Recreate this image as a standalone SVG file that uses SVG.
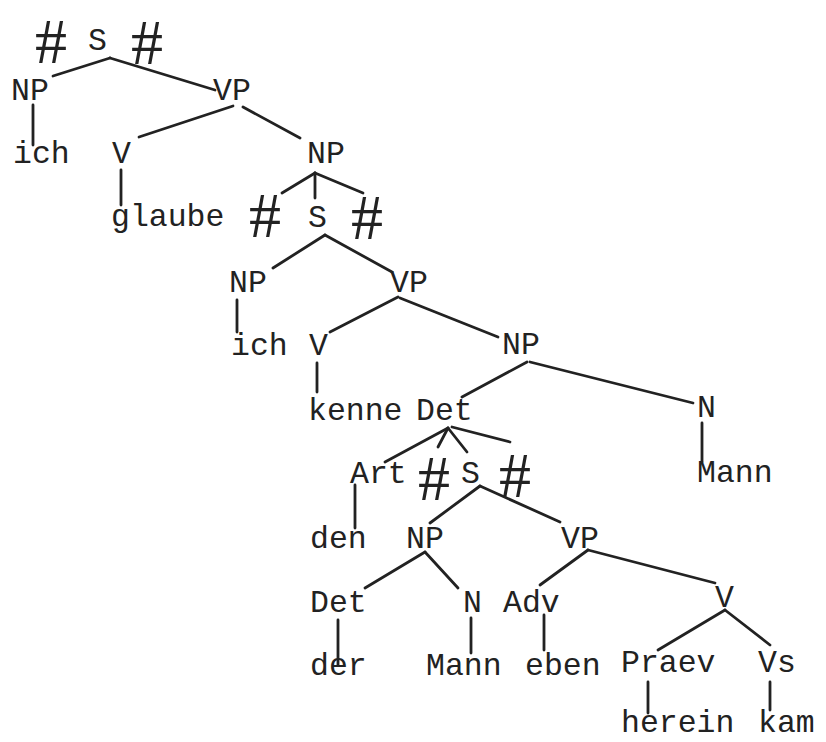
<svg xmlns="http://www.w3.org/2000/svg" width="826" height="742" viewBox="0 0 826 742">
<style>
text{font-family:"Liberation Mono","DejaVu Sans Mono",monospace;font-size:31.5px;fill:#222}
text.h{font-family:"Liberation Serif","DejaVu Serif",serif;font-size:64px;text-anchor:middle}
#edges line{stroke:#222;stroke-width:2.8;stroke-linecap:round}
</style>
<rect width="826" height="742" fill="#fff"/>
<g id="edges">
<line x1="110" y1="58" x2="53" y2="76"/>
<line x1="110" y1="58" x2="215" y2="90"/>
<line x1="33" y1="105" x2="33" y2="145"/>
<line x1="233" y1="106" x2="139" y2="137"/>
<line x1="243" y1="107" x2="300" y2="138"/>
<line x1="121" y1="170" x2="121" y2="205"/>
<line x1="315" y1="173" x2="282" y2="193"/>
<line x1="315" y1="173" x2="315" y2="198"/>
<line x1="315" y1="173" x2="363" y2="193"/>
<line x1="325" y1="235" x2="273" y2="268"/>
<line x1="325" y1="235" x2="392" y2="272"/>
<line x1="237" y1="300" x2="237" y2="332"/>
<line x1="398" y1="297" x2="330" y2="332"/>
<line x1="400" y1="298" x2="498" y2="337"/>
<line x1="317" y1="363" x2="317" y2="392"/>
<line x1="527" y1="362" x2="462" y2="397"/>
<line x1="530" y1="362" x2="693" y2="403"/>
<line x1="702" y1="423" x2="702" y2="462"/>
<line x1="448" y1="428" x2="385" y2="462"/>
<line x1="448" y1="428" x2="438" y2="447"/>
<line x1="448" y1="428" x2="467" y2="452"/>
<line x1="452" y1="427" x2="510" y2="442"/>
<line x1="355" y1="485" x2="355" y2="528"/>
<line x1="480" y1="486" x2="430" y2="523"/>
<line x1="480" y1="486" x2="560" y2="522"/>
<line x1="425" y1="552" x2="365" y2="588"/>
<line x1="425" y1="552" x2="458" y2="588"/>
<line x1="588" y1="550" x2="540" y2="585"/>
<line x1="588" y1="550" x2="715" y2="583"/>
<line x1="338" y1="620" x2="338" y2="665"/>
<line x1="471" y1="618" x2="471" y2="653"/>
<line x1="544" y1="615" x2="544" y2="650"/>
<line x1="725" y1="610" x2="658" y2="650"/>
<line x1="725" y1="610" x2="770" y2="645"/>
<line x1="648" y1="682" x2="648" y2="713"/>
<line x1="770" y1="682" x2="770" y2="710"/>
</g>
<g id="hash1"><text class="h" x="51" y="63">#</text></g>
<g id="S1"><text x="88" y="50">S</text></g>
<g id="hash2"><text class="h" x="147" y="64">#</text></g>
<g id="NP1"><text x="11" y="100">NP</text></g>
<g id="VP1"><text x="213" y="100">VP</text></g>
<g id="ich1"><text x="13" y="163">ich</text></g>
<g id="V1"><text x="112" y="163">V</text></g>
<g id="NP2"><text x="307" y="163">NP</text></g>
<g id="glaube"><text x="111" y="226">glaube</text></g>
<g id="hash3"><text class="h" x="265" y="237">#</text></g>
<g id="S2"><text x="308" y="227">S</text></g>
<g id="hash4"><text class="h" x="367" y="239">#</text></g>
<g id="NP3"><text x="229" y="292">NP</text></g>
<g id="VP2"><text x="390" y="292">VP</text></g>
<g id="ich2"><text x="231" y="355">ich</text></g>
<g id="V2"><text x="309" y="355">V</text></g>
<g id="NP4"><text x="502" y="354">NP</text></g>
<g id="kenne"><text x="308" y="420">kenne</text></g>
<g id="Det1"><text x="416" y="420">Det</text></g>
<g id="N1"><text x="697" y="417">N</text></g>
<g id="Mann1"><text x="697" y="482">Mann</text></g>
<g id="Art"><text x="350" y="483">Art</text></g>
<g id="hash5"><text class="h" x="434" y="500">#</text></g>
<g id="S3"><text x="461" y="483">S</text></g>
<g id="hash6"><text class="h" x="515" y="497">#</text></g>
<g id="den"><text x="310" y="548">den</text></g>
<g id="NP5"><text x="406" y="548">NP</text></g>
<g id="VP3"><text x="561" y="548">VP</text></g>
<g id="Det2"><text x="310" y="612">Det</text></g>
<g id="N2"><text x="463" y="612">N</text></g>
<g id="Adv"><text x="503" y="612">Adv</text></g>
<g id="V3"><text x="715" y="607">V</text></g>
<g id="der"><text x="310" y="675">der</text></g>
<g id="Mann2"><text x="426" y="675">Mann</text></g>
<g id="eben"><text x="525" y="675">eben</text></g>
<g id="Praev"><text x="621" y="672">Praev</text></g>
<g id="Vs"><text x="758" y="672">Vs</text></g>
<g id="herein"><text x="621" y="732">herein</text></g>
<g id="kam"><text x="758" y="732">kam</text></g>
</svg>
